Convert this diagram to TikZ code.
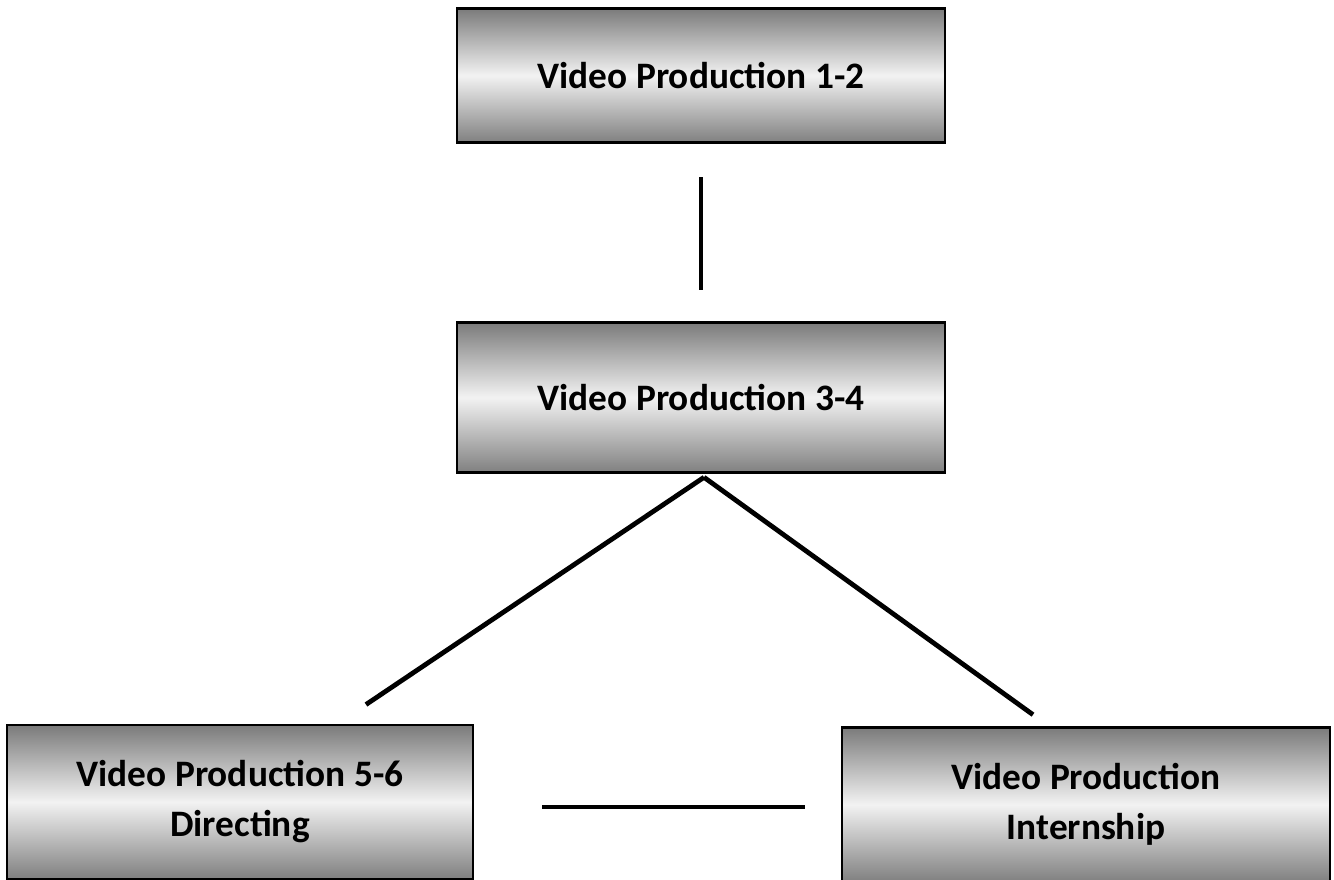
\documentclass[tikz,border=0pt]{standalone}
\usepackage{fontspec}
\setmainfont{Carlito}
\usepackage{tikz}
\usetikzlibrary{positioning, calc}
\tikzset{
  coursebox/.style={rectangle, draw, line width=2.2pt, top color=black!52, bottom color=black!50, middle color=black!5, minimum width=366pt, minimum height=101pt, align=center, inner sep=0pt, font=\fontsize{28}{37.5}\selectfont\bfseries},
  link/.style={line width=3.6pt},
}

\begin{document}
\begin{tikzpicture}[x=0.75pt, y=-0.75pt]
  \useasboundingbox (0,0) rectangle (1334,880);

  % Courses
  \node[coursebox] (vp12) at (701,75.5) {Video Production 1-2};
  \node[coursebox, minimum height=113pt] (vp34) at (701,397.5) {Video Production 3-4};
  \node[coursebox, minimum width=349.5pt, minimum height=115.5pt] (vp56) at (240,802) {Video Production 5-6\\Directing};
  \node[coursebox, minimum height=116pt] (vpint) at (1086,804.5) {Video Production\\Internship};

  % Links
  \draw[link] ($(vp12.south)+(0,33)$) -- ($(vp34.north)+(0,-31)$);
  \draw[link] ($(vp34.south)+(3,3)$) -- ($(vp56.north)+(126,-19)$);
  \draw[link] ($(vp34.south)+(3,3)$) -- ($(vpint.north)+(-53,-11)$);
  \draw[link] ($(vp56.east)+(68,5)$) -- ($(vpint.west)+(-36,2.5)$);
\end{tikzpicture}
\end{document}
